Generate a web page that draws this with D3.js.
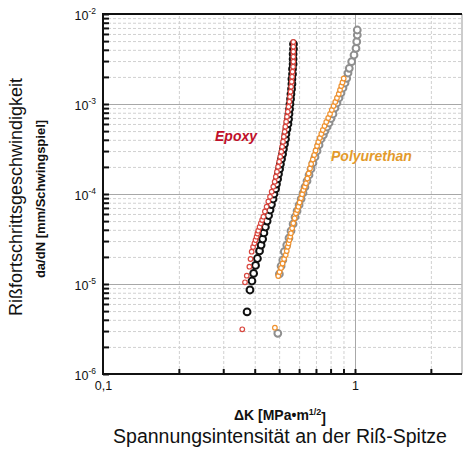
<!DOCTYPE html>
<html><head><meta charset="utf-8">
<script src="https://cdn.jsdelivr.net/npm/d3@7"></script>
<style>body{margin:0;background:#fff} svg{display:block} text{font-family:Arial,"Liberation Sans",sans-serif}</style>
</head><body><svg id="c" width="464" height="449"></svg>
<script>
// ---- data ----
const xDecades = [0.1, 1];
const xTickLabels = ["0,1", "1"];
const yDecades = [1e-6, 1e-5, 1e-4, 1e-3, 1e-2];
const yTickExponents = ["-6", "-5", "-4", "-3", "-2"];
const seriesNames = ["Epoxy", "Polyurethan"];
const yTitle1 = "Rißfortschrittsgeschwindigkeit";
const yTitle2 = "da/dN [mm/Schwingspiel]";
const xTitle2 = "Spannungsintensität an der Riß-Spitze";

// Epoxy, large black circles [ΔK, da/dN]
const epoxyBlack = [
 [0.373,4.89e-6],[0.383,8.58e-6],[0.390,1.08e-5],[0.396,1.31e-5],[0.403,1.61e-5],[0.410,1.92e-5],
 [0.418,2.33e-5],[0.424,2.71e-5],[0.430,3.16e-5],[0.435,3.69e-5],[0.441,4.30e-5],[0.448,5.01e-5],
 [0.454,5.77e-5],[0.460,6.64e-5],[0.466,7.64e-5],[0.473,8.80e-5],[0.477,1.00e-4],[0.484,1.14e-4],
 [0.488,1.29e-4],[0.493,1.47e-4],[0.497,1.67e-4],[0.502,1.90e-4],[0.506,2.15e-4],[0.511,2.45e-4],
 [0.516,2.78e-4],[0.520,3.16e-4],[0.525,3.59e-4],[0.530,4.08e-4],[0.532,4.64e-4],[0.537,5.27e-4],
 [0.542,6.00e-4],[0.545,6.81e-4],[0.547,7.74e-4],[0.550,8.80e-4],[0.552,1.00e-3],[0.555,1.14e-3],
 [0.557,1.29e-3],[0.560,1.47e-3],[0.562,1.67e-3],[0.562,1.90e-3],[0.565,2.15e-3],[0.565,2.45e-3],
 [0.568,2.78e-3],[0.568,3.16e-3],[0.568,3.59e-3],[0.570,4.08e-3],[0.570,4.64e-3]
];
// Epoxy, small red circles
const epoxyRed = [
 [0.357,3.14e-6],[0.366,1.044e-5],[0.372,1.236e-5],[0.381,1.556e-5],[0.385,1.896e-5],[0.389,2.285e-5],
 [0.394,2.577e-5],[0.399,2.833e-5],[0.403,3.083e-5],[0.407,3.354e-5],[0.410,3.640e-5],[0.413,3.910e-5],
 [0.418,4.30e-5],[0.423,4.725e-5],[0.428,5.141e-5],[0.433,5.595e-5],[0.439,6.392e-5],[0.446,7.225e-5],
 [0.453,8.254e-5],[0.460,9.333e-5],[0.467,1.061e-4],[0.474,1.205e-4],[0.480,1.369e-4],[0.485,1.556e-4],
 [0.490,1.769e-4],[0.495,2.010e-4],[0.500,2.284e-4],[0.505,2.596e-4],[0.510,2.950e-4],[0.514,3.353e-4],
 [0.518,3.811e-4],[0.522,4.331e-4],[0.526,4.922e-4],[0.529,5.594e-4],[0.533,6.357e-4],[0.537,7.225e-4],
 [0.541,8.211e-4],[0.545,9.332e-4],[0.549,1.061e-3],[0.552,1.205e-3],[0.555,1.370e-3],[0.558,1.557e-3],
 [0.561,1.769e-3],[0.563,2.011e-3],[0.565,2.285e-3],[0.568,2.597e-3],[0.569,2.951e-3],[0.569,3.354e-3],
 [0.569,3.812e-3],[0.569,4.332e-3],[0.569,4.886e-3]
];
// Polyurethan, large grey circles
const puGray = [
 [0.494,2.833e-6],[0.501,1.292e-5],[0.509,1.585e-5],[0.517,1.848e-5],[0.524,2.285e-5],[0.536,2.71e-5],
 [0.547,3.245e-5],[0.557,3.880e-5],[0.568,4.642e-5],[0.578,5.552e-5],[0.589,6.474e-5],[0.600,7.546e-5],
 [0.611,8.80e-5],[0.622,1.026e-4],[0.633,1.196e-4],[0.645,1.395e-4],[0.657,1.626e-4],[0.669,1.896e-4],
 [0.681,2.210e-4],[0.694,2.577e-4],[0.707,3.005e-4],[0.720,3.503e-4],[0.733,4.084e-4],[0.749,4.524e-4],
 [0.760,5.012e-4],[0.774,5.552e-4],[0.789,6.150e-4],[0.803,6.902e-4],[0.818,7.743e-4],[0.833,9.027e-4],
 [0.848,1.026e-3],[0.864,1.166e-3],[0.880,1.325e-3],[0.896,1.506e-3],[0.913,1.711e-3],[0.927,1.930e-3],
 [0.938,2.210e-3],[0.949,2.493e-3],[0.970,2.951e-3],[0.991,3.503e-3],[1.009,4.157e-3],[1.016,4.923e-3],
 [1.021,5.843e-3],[1.021,6.641e-3]
];
// Polyurethan, small orange circles
const puOrange = [
 [0.481,3.269e-6],[0.496,1.227e-5],[0.502,1.359e-5],[0.509,1.506e-5],[0.516,1.690e-5],[0.523,1.896e-5],
 [0.531,2.100e-5],[0.536,2.326e-5],[0.541,2.597e-5],[0.545,2.833e-5],[0.549,3.083e-5],[0.553,3.354e-5],
 [0.557,3.659e-5],[0.563,4.157e-5],[0.569,4.725e-5],[0.576,5.370e-5],[0.583,6.105e-5],[0.590,6.64e-5],
 [0.596,7.225e-5],[0.603,8.046e-5],[0.611,8.960e-5],[0.617,9.95e-5],[0.624,1.108e-4],[0.632,1.205e-4],
 [0.639,1.315e-4],[0.647,1.486e-4],[0.655,1.690e-4],[0.663,1.920e-4],[0.670,2.154e-4],[0.680,2.416e-4],
 [0.689,2.712e-4],[0.698,3.043e-4],[0.707,3.415e-4],[0.715,3.783e-4],[0.725,4.191e-4],[0.735,4.642e-4],
 [0.745,5.141e-4],[0.757,5.695e-4],[0.769,6.310e-4],[0.783,6.990e-4],[0.796,7.743e-4],[0.809,8.577e-4],
 [0.822,9.502e-4],[0.835,1.053e-3],[0.848,1.166e-3],[0.862,1.292e-3],[0.872,1.431e-3],[0.882,1.585e-3],
 [0.892,1.734e-3],[0.902,1.920e-3]
];

// ---- layout ----
const svg = d3.select("#c");
const L = 103, T = 14, R = 462, B = 374;
const x = d3.scaleLog().domain([0.1, 3]).range([L, L + 252 * Math.log10(30)]);
const y = d3.scaleLog().domain([1e-6, 1e-2]).range([B, T]);

const minorX = [], minorY = [];
for (const d of [0.1, 1]) for (let k = 2; k <= 9; k++) if (d * k <= 3) minorX.push(d * k);
for (const d of [1e-6, 1e-5, 1e-4, 1e-3]) for (let k = 2; k <= 9; k++) minorY.push(d * k);

svg.append("defs").append("clipPath").attr("id", "clip")
  .append("rect").attr("x", L).attr("y", T).attr("width", R - L).attr("height", B - T);

const grid = svg.append("g").attr("clip-path", "url(#clip)");
grid.append("g").attr("transform", `translate(0,${B})`)
  .call(d3.axisBottom(x).tickValues(minorX).tickSize(-(B - T)).tickFormat(""))
  .call(g => { g.select(".domain").remove(); g.selectAll("line").attr("stroke", "#d0d0d0").attr("stroke-dasharray", "3,2"); });
grid.append("g").attr("transform", `translate(${L},0)`)
  .call(d3.axisLeft(y).tickValues(minorY).tickSize(-(R - L)).tickFormat(""))
  .call(g => { g.select(".domain").remove(); g.selectAll("line").attr("stroke", "#d0d0d0").attr("stroke-dasharray", "3,2"); });
grid.append("g").attr("transform", `translate(0,${B})`)
  .call(d3.axisBottom(x).tickValues([1]).tickSize(-(B - T)).tickFormat(""))
  .call(g => { g.select(".domain").remove(); g.selectAll("line").attr("stroke", "#a8a8a8"); });
grid.append("g").attr("transform", `translate(${L},0)`)
  .call(d3.axisLeft(y).tickValues(yDecades.slice(1, 4)).tickSize(-(R - L)).tickFormat(""))
  .call(g => { g.select(".domain").remove(); g.selectAll("line").attr("stroke", "#a8a8a8"); });

// frame
svg.append("line").attr("x1", R).attr("x2", R).attr("y1", T).attr("y2", B).attr("stroke", "#bbb").attr("stroke-width", 1.5);
svg.append("path").attr("d", `M${R},${T}H${L}V${B}H${R}`).attr("fill", "none").attr("stroke", "#111").attr("stroke-width", 2);

// tick marks (inside)
svg.append("g").attr("transform", `translate(${L},0)`)
  .call(d3.axisRight(y).tickValues(minorY.concat(yDecades)).tickSize(6).tickFormat(""))
  .call(g => { g.select(".domain").remove(); g.selectAll("line").attr("stroke", "#111").attr("stroke-width", 2); });
svg.append("g").attr("transform", `translate(0,${B})`)
  .call(d3.axisTop(x).tickValues(minorX.concat([1])).tickSize(5).tickFormat(""))
  .call(g => { g.select(".domain").remove(); g.selectAll("line").attr("stroke", "#111").attr("stroke-width", 2); });

// tick labels
const yl = svg.append("g").attr("transform", `translate(${L},0)`)
  .call(d3.axisLeft(y).tickValues(yDecades).tickSize(0).tickPadding(7).tickFormat(""));
yl.select(".domain").remove();
yl.selectAll(".tick text").each(function(d, i) {
  const t = d3.select(this).attr("font-size", 12.5).attr("fill", "#111").attr("dy", "0.4em").attr("font-family", "Arial, Liberation Sans, sans-serif");
  t.append("tspan").text("10");
  t.append("tspan").attr("font-size", 8.5).attr("dy", "-0.6em").text(yTickExponents[i]);
});
const xl = svg.append("g").attr("transform", `translate(0,${B})`)
  .call(d3.axisBottom(x).tickValues(xDecades).tickSize(0).tickPadding(7).tickFormat((d, i) => xTickLabels[i]));
xl.select(".domain").remove();
xl.selectAll(".tick text").attr("font-size", 12.5).attr("fill", "#111").attr("font-family", "Arial, Liberation Sans, sans-serif");

// series
const plot = svg.append("g").attr("clip-path", "url(#clip)");
function dots(data, r, color, sw) {
  plot.append("g").selectAll("circle").data(data).join("circle")
    .attr("cx", d => x(d[0])).attr("cy", d => y(d[1])).attr("r", r)
    .attr("fill", "#fff").attr("stroke", color).attr("stroke-width", sw);
}
dots(epoxyBlack, 3.4, "#111", 2);
dots(epoxyRed, 2.3, "#d9473f", 1.2);
dots(puGray, 3.4, "#8f8f8f", 2);
dots(puOrange, 2.3, "#f0922e", 1.2);

// series labels
svg.append("text").attr("x", 215).attr("y", 141).attr("font-size", 14).attr("font-weight", "bold")
  .attr("font-style", "italic").attr("fill", "#c0102a").text(seriesNames[0]);
svg.append("text").attr("x", 331).attr("y", 161).attr("font-size", 14).attr("font-weight", "bold")
  .attr("font-style", "italic").attr("fill", "#e39a2c").text(seriesNames[1]);

// axis titles
svg.append("text").attr("transform", "translate(22,197) rotate(-90)").attr("text-anchor", "middle")
  .attr("font-size", 18).attr("fill", "#111").text(yTitle1);
svg.append("text").attr("transform", "translate(45,199) rotate(-90)").attr("text-anchor", "middle")
  .attr("font-size", 13).attr("font-weight", "bold").attr("fill", "#111").text(yTitle2);
const xt = svg.append("text").attr("x", 280).attr("y", 420).attr("text-anchor", "middle")
  .attr("font-size", 14).attr("font-weight", "bold").attr("fill", "#111");
xt.append("tspan").text("ΔK [MPa•m");
xt.append("tspan").attr("font-size", 9).attr("dy", "-0.55em").text("1/2");
xt.append("tspan").attr("dy", "0.55em").text("]");
svg.append("text").attr("x", 280).attr("y", 443).attr("text-anchor", "middle")
  .attr("font-size", 19.5).attr("fill", "#111").text(xTitle2);
</script></body></html>
